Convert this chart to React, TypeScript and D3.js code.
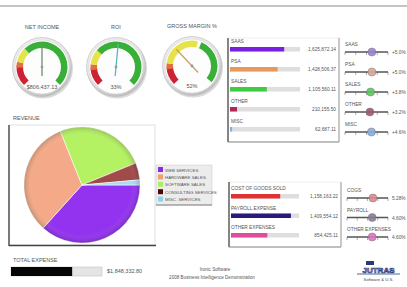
import React from "react";
import * as d3 from "d3";

const FONT = "'Liberation Sans', Arial, sans-serif";

// Gauges
const gaugeTitles = ["NET INCOME", "ROI", "GROSS MARGIN %"];
const gaugeLabels = ["$806,437.13", "33%", "52%"];
const gaugeValues = [0.5, 0.52, 0.34]; // fraction of scale
const gaugeRed = [[0, 0.18], [0, 0.16], [0, 0.16]];
const gaugeYellow = [[0.18, 0.34], [0.16, 0.32], [0.16, 0.55]];
const gaugeGreen = [[0.34, 1], [0.32, 1], [0.58, 0.98]];
const gaugeNeedle = ["#6f8f6f", "#58b8b8", "#c9a064"];

// Revenue
const revCategories = ["WEB SERVICES", "HARDWARE SALES", "SOFTWARE SALES", "CONSULTING SERVICES", "MISC. SERVICES"];
const revShort = ["SAAS", "PSA", "SALES", "OTHER", "MISC"];
const revValues = [1625872.14, 1428506.37, 1105560.11, 210155.5, 62687.11];
const revColors = ["#8a2be2", "#f0a070", "#a8f060", "#4a0808", "#90d0f0"];
const pieColors = ["#9333f0", "#f4aa88", "#b4f264", "#a04a4a", "#a8dcf2"];
const barColors = ["#7a1ee0", "#e8985a", "#40cc40", "#b0285a", "#78b4ea"];
const knobColors = ["#9a82d4", "#dca898", "#5cc85c", "#a05868", "#88aee4"];
const revGrowth = [5.0, 5.0, 3.8, 3.2, 4.6];

// Expenses
const expCategories = ["COST OF GOODS SOLD", "PAYROLL EXPENSE", "OTHER EXPENSES"];
const expShort = ["COGS", "PAYROLL", "OTHER EXPENSES"];
const expValues = [1158163.22, 1409554.12, 854425.11];
const expColors = ["#e03232", "#2a1a7c", "#e24a9c"];
const expKnob = ["#e08890", "#8a7a98", "#e070c0"];
const expGrowth = [5.28, 4.6, 4.6];

const totalExpense = 1848332.8;
const totalExpenseMax = 2750000;

const fmt = d3.format(",.2f");

function Gauge({ cx, cy, i }: { cx: number; cy: number; i: number }) {
  const a = d3.scaleLinear().domain([0, 1]).range([(-135 * Math.PI) / 180, (135 * Math.PI) / 180]);
  const arc = d3.arc<any>().innerRadius(19).outerRadius(25.5);
  const band = (r: number[], c: string) => (
    <path d={arc({ startAngle: a(r[0]), endAngle: a(r[1]) }) as string} fill={c} />
  );
  const ang = a(gaugeValues[i]);
  const tip = [cx + 23 * Math.sin(ang), cy - 23 * Math.cos(ang)];
  const tail = [cx - 9 * Math.sin(ang), cy + 9 * Math.cos(ang)];
  return (
    <g>
      <text x={cx} y={cy - 38} textAnchor="middle" fontSize={5.5} fill="#555" fontFamily={FONT}>
        {gaugeTitles[i]}
      </text>
      <circle cx={cx + 1} cy={cy + 1.5} r={30} fill="#dadada" />
      <circle cx={cx} cy={cy} r={29.5} fill="url(#bezel)" stroke="#b8b8b8" strokeWidth={0.6} />
      <circle cx={cx} cy={cy} r={27} fill="#fdfdfd" stroke="#d0d0d0" strokeWidth={0.5} />
      <g transform={`translate(${cx},${cy})`}>
        {band(gaugeRed[i], "#cc2233")}
        {band([gaugeYellow[i][0] - 0.02, gaugeYellow[i][0] + 0.03], "#e07040")}
        {band([gaugeYellow[i][0] + 0.03, gaugeYellow[i][1]], "#e6e24a")}
        {band(gaugeGreen[i], "#38b038")}
      </g>
      <line x1={tail[0]} y1={tail[1]} x2={tip[0]} y2={tip[1]} stroke={gaugeNeedle[i]} strokeWidth={1.3} />
      <circle cx={cx} cy={cy} r={1.4} fill="#999" />
      <text x={cx} y={cy + 22} textAnchor="middle" fontSize={5.5} fill="#555" fontFamily={FONT}>
        {gaugeLabels[i]}
      </text>
    </g>
  );
}

function Slider({ x0, x1, y, v, color, label, text }: any) {
  const s = d3.scaleLinear().domain([-20, 20]).range([x0, x1]);
  const ticks = d3.range(-20, 21, 10);
  return (
    <g>
      <text x={x0} y={y - 6} fontSize={4.8} fill="#555" fontFamily={FONT}>
        {label}
      </text>
      {ticks.map((t) => (
        <line key={t} x1={s(t)} x2={s(t)} y1={y} y2={y + 3} stroke="#777" strokeWidth={0.6} />
      ))}
      <line x1={x0} x2={x1} y1={y} y2={y} stroke="#555" strokeWidth={1.6} />
      <circle cx={s(v)} cy={y} r={4} fill={color} stroke="#777" strokeWidth={0.6} opacity={0.9} />
      <text x={x1 + 4} y={y + 2} fontSize={4.8} fill="#555" fontFamily={FONT}>
        {text}
      </text>
    </g>
  );
}

export default function App() {
  const W = 407,
    H = 287;

  // Pie
  const pcx = 82,
    pcy = 185,
    pr = 58;
  const pie = d3
    .pie<number>()
    .sort(null)
    .startAngle(Math.PI / 2)
    .endAngle(Math.PI / 2 + 2 * Math.PI)(revValues);
  const pieArc = d3.arc<any>().innerRadius(0).outerRadius(pr);

  // Revenue bars
  const rx = d3.scaleLinear().domain([0, 2100000]).range([230, 300]);
  const ry = (i: number) => 43 + i * 20;

  // Expense bars
  const ex = d3.scaleLinear().domain([0, 1600000]).range([231, 299]);
  const ey = (i: number) => 190 + i * 19.5;

  const tx = d3.scaleLinear().domain([0, totalExpenseMax]).range([11, 102]);

  return (
    <svg width={W} height={H} style={{ position: "absolute", left: 0, top: 0, background: "#fff" }}>
      <defs>
        <radialGradient id="bezel" cx="45%" cy="40%" r="60%">
          <stop offset="0%" stopColor="#ffffff" />
          <stop offset="80%" stopColor="#e6e6e6" />
          <stop offset="100%" stopColor="#bdbdbd" />
        </radialGradient>
        <radialGradient id="pieShade" cx="50%" cy="50%" r="50%">
          <stop offset="85%" stopColor="#fff" stopOpacity={0} />
          <stop offset="100%" stopColor="#000" stopOpacity={0.18} />
        </radialGradient>
      </defs>
      <rect x={0} y={0} width={W} height={H} fill="#fff" />
      <line x1={0} x2={W} y1={6} y2={6} stroke="#8a8a8a" strokeWidth={1} />

      <Gauge cx={42} cy={67} i={0} />
      <Gauge cx={116} cy={67} i={1} />
      <Gauge cx={192} cy={66} i={2} />

      {/* Revenue bar panel */}
      <rect x={228} y={38} width={111} height={104} fill="#fff" stroke="#e4e4e4" strokeWidth={0.6} />
      <line x1={228} x2={228} y1={38} y2={142} stroke="#555" strokeWidth={1.4} />
      <line x1={228} x2={339} y1={142} y2={142} stroke="#888" strokeWidth={1} />
      <line x1={339} x2={339} y1={38} y2={142} stroke="#999" strokeWidth={1} />
      {revValues.map((v, i) => (
        <g key={i}>
          <text x={231} y={ry(i)} fontSize={4.8} fill="#555" fontFamily={FONT}>
            {revShort[i]}
          </text>
          <rect x={rx(0)} y={ry(i) + 4} width={rx.range()[1] - rx(0)} height={4.5} fill="#dedede" />
          <rect x={rx(0)} y={ry(i) + 4} width={rx(v) - rx(0)} height={4.5} fill={barColors[i]} />
          <text x={336} y={ry(i) + 8} textAnchor="end" fontSize={4.8} fill="#555" fontFamily={FONT}>
            {fmt(v)}
          </text>
        </g>
      ))}

      {/* Revenue sliders */}
      {revGrowth.map((g, i) => (
        <Slider
          key={i}
          x0={345}
          x1={388}
          y={ry(i) + 9}
          v={g}
          color={knobColors[i]}
          label={revShort[i]}
          text={d3.format("+.1f")(g) + "%"}
        />
      ))}

      {/* Pie panel */}
      <text x={13} y={120} fontSize={5.5} fill="#555" fontFamily={FONT}>
        REVENUE
      </text>
      <rect x={9} y={125} width={146} height={120} fill="#fff" stroke="#d8d8d8" strokeWidth={0.8} />
      <line x1={9} x2={9} y1={125} y2={246} stroke="#555" strokeWidth={1.5} />
      <line x1={9} x2={156} y1={245.5} y2={245.5} stroke="#444" strokeWidth={1.5} />
      <g transform={`translate(${pcx},${pcy})`}>
        {pie.map((d, i) => (
          <path key={i} d={pieArc(d) as string} fill={pieColors[i]} stroke="#fff" strokeOpacity={0.7} strokeWidth={0.8} />
        ))}
        <circle r={pr} fill="url(#pieShade)" />
      </g>

      {/* Legend */}
      <rect x={156} y={165} width={56} height={40} fill="#ececec" stroke="#c8c8c8" strokeWidth={0.5} />
      <line x1={156} x2={212} y1={205} y2={205} stroke="#666" strokeWidth={0.8} />
      {revCategories.map((c, i) => (
        <g key={i}>
          <rect x={158} y={167 + i * 7.4} width={5} height={5} fill={revColors[i]} />
          <text x={165} y={171.5 + i * 7.4} fontSize={4.4} fill="#555" fontFamily={FONT}>
            {c}
          </text>
        </g>
      ))}

      {/* Expense bar panel */}
      <rect x={229} y={182} width={112} height={65} fill="#fff" stroke="#e4e4e4" strokeWidth={0.6} />
      <line x1={229} x2={229} y1={182} y2={247} stroke="#555" strokeWidth={1.4} />
      <line x1={229} x2={341} y1={247} y2={247} stroke="#888" strokeWidth={1} />
      <line x1={341} x2={341} y1={182} y2={247} stroke="#999" strokeWidth={1} />
      {expValues.map((v, i) => (
        <g key={i}>
          <text x={231} y={ey(i)} fontSize={4.8} fill="#555" fontFamily={FONT}>
            {expCategories[i]}
          </text>
          <rect x={ex(0)} y={ey(i) + 4} width={ex.range()[1] - ex(0)} height={4.5} fill="#dedede" />
          <rect x={ex(0)} y={ey(i) + 4} width={ex(v) - ex(0)} height={4.5} fill={expColors[i]} />
          <text x={338} y={ey(i) + 8} textAnchor="end" fontSize={4.8} fill="#555" fontFamily={FONT}>
            {fmt(v)}
          </text>
        </g>
      ))}
      {expGrowth.map((g, i) => (
        <Slider
          key={i}
          x0={347}
          x1={388}
          y={ey(i) + 8}
          v={g}
          color={expKnob[i]}
          label={expShort[i]}
          text={d3.format(".2f")(g) + "%"}
        />
      ))}

      {/* Total expense */}
      <text x={13} y={262} fontSize={5.5} fill="#555" fontFamily={FONT}>
        TOTAL EXPENSE
      </text>
      <rect x={tx(0)} y={267} width={tx.range()[1] - tx(0)} height={9} fill="#e4e4e4" stroke="#bbb" strokeWidth={0.5} />
      <rect x={tx(0)} y={267} width={tx(totalExpense) - tx(0)} height={9} fill="#050505" />
      <text x={107} y={273} fontSize={5.5} fill="#555" fontFamily={FONT}>
        {"$" + fmt(totalExpense)}
      </text>

      {/* Footer */}
      <text x={215} y={271} textAnchor="middle" fontSize={4.6} fill="#555" fontFamily={FONT}>
        Ironic Software
      </text>
      <text x={212} y={279} textAnchor="middle" fontSize={4.6} fill="#555" fontFamily={FONT}>
        2008 Business Intelligence Demonstration
      </text>

      {/* Logo */}
      <rect x={366} y={261} width={8} height={4} fill="#2a3a78" />
      <text x={378.5} y={273} textAnchor="middle" fontSize={8} fontWeight="bold" fill="#dde3f2" stroke="#2a3a78" strokeWidth={0.7} fontFamily={FONT}>
        JUTRAS
      </text>
      <line x1={357} x2={400} y1={274} y2={274} stroke="#2a3a78" strokeWidth={0.8} />
      <text x={378.5} y={281} textAnchor="middle" fontSize={4.2} fill="#445" fontFamily={FONT}>
        Software &amp; U.S.
      </text>
    </svg>
  );
}
